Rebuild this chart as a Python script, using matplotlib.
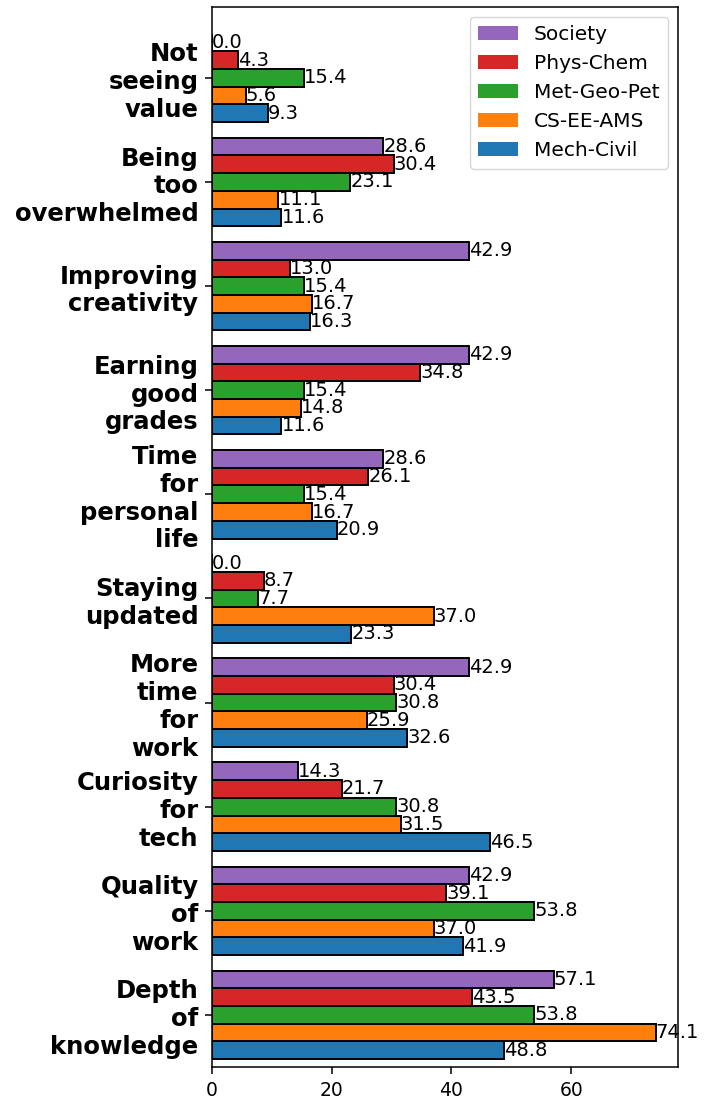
import matplotlib
matplotlib.use("Agg")
import matplotlib.pyplot as plt
from matplotlib.patches import Patch
import numpy as np

categories = ["Depth\nof\nknowledge", "Quality\nof\nwork", "Curiosity\nfor\ntech",
              "More\ntime\nfor\nwork", "Staying\nupdated", "Time\nfor\npersonal\nlife",
              "Earning\ngood\ngrades", "Improving\ncreativity", "Being\ntoo\noverwhelmed",
              "Not\nseeing\nvalue"]
series_names = ["Mech-Civil", "CS-EE-AMS", "Met-Geo-Pet", "Phys-Chem", "Society"]
mech_civil = [48.8, 41.9, 46.5, 32.6, 23.3, 20.9, 11.6, 16.3, 11.6, 9.3]
cs_ee_ams = [74.1, 37.0, 31.5, 25.9, 37.0, 16.7, 14.8, 16.7, 11.1, 5.6]
met_geo_pet = [53.8, 53.8, 30.8, 30.8, 7.7, 15.4, 15.4, 15.4, 23.1, 15.4]
phys_chem = [43.5, 39.1, 21.7, 30.4, 8.7, 26.1, 34.8, 13.0, 30.4, 4.3]
society = [57.1, 42.9, 14.3, 42.9, 0.0, 28.6, 42.9, 42.9, 28.6, 0.0]
x_ticks = [0, 20, 40, 60]
colors = ["tab:blue", "tab:orange", "tab:green", "tab:red", "tab:purple"]

data = [mech_civil, cs_ee_ams, met_geo_pet, phys_chem, society]

plt.rcParams["axes.linewidth"] = 1.1
plt.rcParams["xtick.major.size"] = 4.9
plt.rcParams["ytick.major.size"] = 4.9
plt.rcParams["xtick.major.width"] = 1.1
plt.rcParams["ytick.major.width"] = 1.1
plt.rcParams["xtick.major.pad"] = 4.9
plt.rcParams["ytick.major.pad"] = 4.9

fig = plt.figure(figsize=(7.09, 11.02), dpi=100)
ax = fig.add_axes([0.299, 0.0318, 0.657, 0.9618])

y = np.arange(len(categories))
h = 0.17
for i, (vals, col) in enumerate(zip(data, colors)):
    bars = ax.barh(y + (i - 2) * h, vals, height=h, color=col,
                   edgecolor="black", linewidth=1.4)
    ax.bar_label(bars, fmt="%.1f", fontsize=14, padding=0)

ax.set_yticks(y)
ax.set_yticklabels(categories, fontsize=17.5, fontweight="bold")
ax.set_xticks(x_ticks)
ax.tick_params(axis="x", labelsize=13.5)
ax.set_ylim(-0.5, 9.68)

handles = [Patch(facecolor=c, label=n) for c, n in zip(colors, series_names)]
ax.legend(handles=handles[::-1], loc="upper right", fontsize=14.5)

fig.savefig("out.png", dpi=100)
